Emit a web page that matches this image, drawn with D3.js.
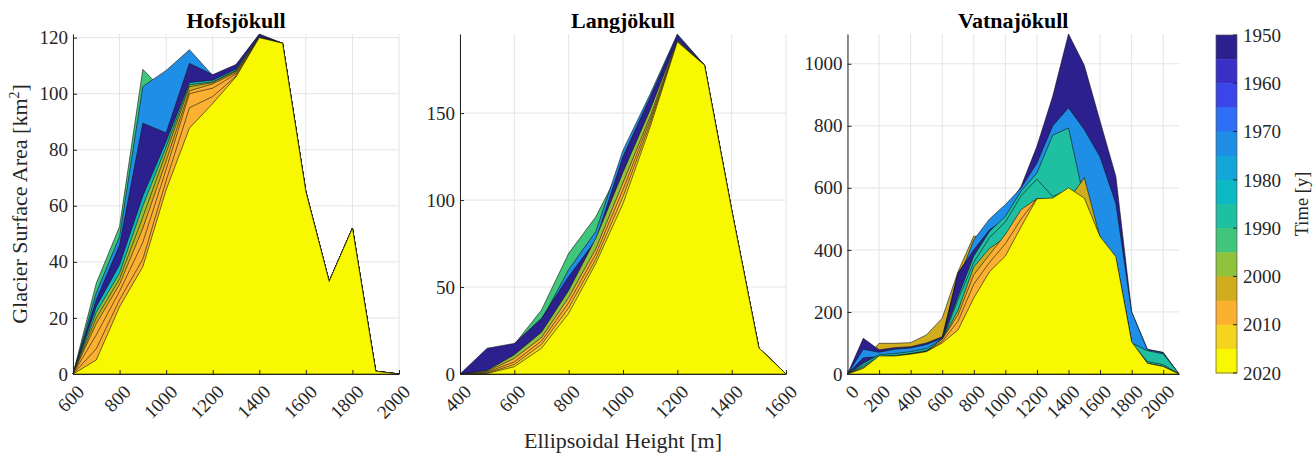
<!DOCTYPE html>
<html>
<head>
<meta charset="utf-8">
<script src="https://cdn.jsdelivr.net/npm/d3@7"></script>
<style>
  body { margin: 0; background: #fff; }
  text { font-family: "Liberation Serif", "Times New Roman", serif; fill: #262626; }
</style>
</head>
<body>
<svg id="chart" width="1315" height="457"></svg>
<script>
// ---------------------------------------------------------------- data
// Hofsjökull (area per 100 m height band, km²)
const hofsHeights = [600, 700, 800, 900, 1000, 1100, 1200, 1300, 1400, 1500, 1600, 1700, 1800, 1900, 2000];
const hofs1990 = [0, 32.4, 52.6, 108.7, 100, 102, 103.5, 108, 120.5, 118, 65, 33, 52, 1, 0];
const hofs1970 = [0, 29, 49, 102.6, 108.3, 115.7, 106.5, 110, 121, 118, 65, 33, 52, 1, 0];
const hofs1950 = [0, 26.5, 46, 89.5, 86, 110.8, 106.8, 110.4, 121.3, 118, 65, 33, 52, 1, 0];
const hofs1980 = [0, 24, 39, 63.5, 83, 104, 104.8, 108.8, 120.5, 118, 65, 33, 52, 1, 0];
const hofs1995 = [0, 22, 36, 60, 81, 103.2, 104.2, 108.3, 120.3, 118, 65, 33, 52, 1, 0];
const hofs2000 = [0, 20, 34, 56, 79, 102.5, 104, 108, 120.2, 118, 65, 33, 52, 1, 0];
const hofs2005 = [0, 18, 32, 52, 76, 101, 103.5, 107.5, 120, 118, 65, 33, 52, 1, 0];
const hofs2007 = [0, 14, 29.5, 47, 73, 100, 102, 107, 120, 118, 65, 33, 52, 1, 0];
const hofs2009 = [0, 9, 26.5, 41, 69, 95, 99, 106.3, 120, 118, 65, 33, 52, 1, 0];
const hofs2020 = [0, 5, 24, 38.3, 65.7, 87.7, 96.5, 106, 120, 118, 65, 33, 52, 1, 0];

// Langjökull
const langHeights = [400, 500, 600, 700, 800, 900, 1000, 1100, 1200, 1300, 1400, 1500, 1600];
const lang1990 = [0, 3, 17, 36.8, 69.4, 90.4, 121, 155, 192, 177.6, 94.3, 15, 0];
const lang1970 = [0, 5, 14, 31, 60, 82, 128.7, 161, 195.5, 177.6, 94.3, 15, 0];
const lang1950 = [0, 14.8, 17.6, 32, 56, 77, 125, 159, 194.8, 177.6, 94.3, 15, 0];
const lang1995 = [0, 2, 11, 24, 48, 78, 116, 152, 192, 177.6, 94.3, 15, 0];
const lang2005 = [0, 1.5, 9, 21, 44, 72, 110, 148, 191.5, 177.6, 94.3, 15, 0];
const lang2007 = [0, 1, 7, 19, 41, 69, 106, 146, 191, 177.6, 94.3, 15, 0];
const lang2012 = [0, 0.5, 5.5, 17, 38, 66, 102, 144, 191, 177.6, 94.3, 15, 0];
const lang2020 = [0, 0.3, 4.2, 14.8, 34.9, 63.6, 98, 142, 191, 177.6, 94.3, 15, 0];

// Vatnajökull
const vatHeights = [0, 100, 200, 300, 400, 500, 600, 700, 800, 900, 1000, 1100, 1200, 1300, 1400, 1500, 1600, 1700, 1800, 1900, 2000, 2100];
const vat2000 = [0, 40, 99, 99, 101, 126, 180, 330, 445, 430, 470, 560, 560, 555, 560, 560, 440, 370, 100, 34, 24, 0];
const vat1950 = [0, 115, 78, 85, 88, 100, 120, 325, 400, 465, 525, 605, 734, 895, 1096, 995, 815, 637, 200, 80, 70, 0];
const vat1970 = [0, 80, 70, 80, 84, 95, 115, 300, 433, 500, 546, 600, 680, 800, 858, 788, 700, 550, 200, 78, 68, 0];
const vat1953 = [0, 52, 56, 62, 66, 74, 106, 325, 400, 465, 500, 520, 560, 560, 560, 560, 440, 370, 100, 34, 24, 0];
const vat1985 = [0, 35, 62, 66, 72, 82, 112, 250, 380, 460, 508, 590, 648, 770, 793, 560, 430, 370, 100, 75, 65, 0];
const vat1987 = [0, 28, 56, 60, 66, 76, 106, 240, 360, 440, 490, 575, 628, 572, 595, 560, 430, 370, 100, 40, 30, 0];
const vat2002 = [0, 20, 50, 56, 64, 72, 110, 205, 345, 405, 440, 520, 565, 560, 560, 633, 440, 370, 100, 34, 24, 0];
const vat2005 = [0, 22, 52, 56, 64, 72, 112, 190, 320, 385, 450, 530, 565, 560, 560, 560, 440, 370, 100, 34, 24, 0];
const vat2007 = [0, 15, 45, 56, 64, 72, 105, 170, 290, 360, 420, 500, 565, 560, 560, 560, 440, 370, 100, 34, 24, 0];
const vat2020 = [0, 18, 58, 58, 64, 72, 100, 142, 245, 330, 380, 475, 565, 567, 600, 567, 443, 378, 104, 34.5, 24, 0];

// axes ticks
const hofsXTicks = [600, 800, 1000, 1200, 1400, 1600, 1800, 2000];
const hofsYTicks = [0, 20, 40, 60, 80, 100, 120];
const langXTicks = [400, 600, 800, 1000, 1200, 1400, 1600];
const langYTicks = [0, 50, 100, 150];
const vatXTicks = [0, 200, 400, 600, 800, 1000, 1200, 1400, 1600, 1800, 2000];
const vatYTicks = [0, 200, 400, 600, 800, 1000];
const colorbarTicks = [1950, 1960, 1970, 1980, 1990, 2000, 2010, 2020];

// colour bands (5 years each, 1950 -> 2020)
const bandColors = ['#2c1f8e', '#3a30c8', '#3b46ea', '#2f6ff5', '#1e8ee6', '#14a6d8', '#0cb8c2',
  '#1fbfa2', '#40c67a', '#8fc33c', '#d0ad1e', '#fcb032', '#f4d41f', '#f8f800'];
const yearColor = y => bandColors[Math.max(0, Math.min(bandColors.length - 1, Math.floor((y - 1950) / 5)))];

// ---------------------------------------------------------------- layout
const svg = d3.select('#chart');
const serif = '"Liberation Serif", "Times New Roman", serif';
const axTop = 34, axBottom = 374;
const axisColor = '#262626';
const gridColor = '#e4e4e4';

const panels = [
  { title: 'Hofsjökull', heights: hofsHeights, left: 73, right: 399, xDomain: [600, 2000],
    xTicks: hofsXTicks, yTicks: hofsYTicks,
    series: [[1990, hofs1990], [1970, hofs1970], [1950, hofs1950], [1980, hofs1980], [1995, hofs1995],
      [2000, hofs2000], [2005, hofs2005], [2007, hofs2007], [2009, hofs2009], [2020, hofs2020]] },
  { title: 'Langjökull', heights: langHeights, left: 460, right: 786, xDomain: [400, 1600],
    xTicks: langXTicks, yTicks: langYTicks,
    series: [[1990, lang1990], [1970, lang1970], [1950, lang1950], [1995, lang1995],
      [2005, lang2005], [2007, lang2007], [2012, lang2012], [2020, lang2020]] },
  { title: 'Vatnajökull', heights: vatHeights, left: 847.5, right: 1179, xDomain: [0, 2100],
    xTicks: vatXTicks, yTicks: vatYTicks,
    series: [[2000, vat2000], [1950, vat1950], [1970, vat1970], [1953, vat1953], [1985, vat1985],
      [1987, vat1987], [2002, vat2002], [2005, vat2005], [2007, vat2007], [2020, vat2020]] }
];

panels.forEach((p, pi) => {
  const xScale = d3.scaleLinear().domain(p.xDomain).range([p.left, p.right]);
  const yMax = d3.max(p.series, s => d3.max(s[1]));
  const yScale = d3.scaleLinear().domain([0, yMax]).range([axBottom, axTop]);
  const g = svg.append('g');

  // grid
  g.append('g').selectAll('line').data(p.xTicks).join('line')
    .attr('x1', d => xScale(d)).attr('x2', d => xScale(d))
    .attr('y1', axTop).attr('y2', axBottom)
    .attr('stroke', gridColor).attr('stroke-width', 1);
  g.append('g').selectAll('line').data(p.yTicks).join('line')
    .attr('x1', p.left).attr('x2', p.right)
    .attr('y1', d => yScale(d)).attr('y2', d => yScale(d))
    .attr('stroke', gridColor).attr('stroke-width', 1);

  // areas, one per survey year
  const area = d3.area()
    .x((d, i) => xScale(p.heights[i]))
    .y0(yScale(0))
    .y1(d => yScale(d));
  g.append('g').selectAll('path').data(p.series).join('path')
    .attr('d', d => area(d[1]))
    .attr('fill', d => yearColor(d[0]))
    .attr('stroke', '#111')
    .attr('stroke-width', 0.6)
    .attr('stroke-linejoin', 'round');

  // axes
  const xAxis = d3.axisBottom(xScale).tickValues(p.xTicks).tickSizeInner(-4).tickSizeOuter(0).tickFormat(d3.format('d'));
  const gx = g.append('g').attr('transform', `translate(0,${axBottom})`).call(xAxis)
    .attr('font-family', serif).attr('font-size', 19);
  gx.select('.domain').attr('stroke', axisColor);
  gx.selectAll('.tick line').attr('stroke', axisColor);
  gx.selectAll('.tick text')
    .attr('fill', axisColor)
    .attr('text-anchor', 'end')
    .attr('y', 0).attr('dy', 0)
    .attr('transform', 'translate(12,19) rotate(-45)');

  const yAxis = d3.axisLeft(yScale).tickValues(p.yTicks).tickSizeInner(-4).tickSizeOuter(0)
    .tickPadding(5).tickFormat(d3.format('d'));
  const gy = g.append('g').attr('transform', `translate(${p.left},0)`).call(yAxis)
    .attr('font-family', serif).attr('font-size', 19);
  gy.select('.domain').attr('stroke', axisColor);
  gy.selectAll('.tick line').attr('stroke', axisColor);
  gy.selectAll('.tick text').attr('fill', axisColor);

  // title
  g.append('text')
    .attr('x', (p.left + p.right) / 2).attr('y', 27.5)
    .attr('text-anchor', 'middle')
    .attr('font-size', '22px').attr('font-weight', 'bold')
    .style('fill', '#000')
    .text(p.title);

  if (pi === 0) {
    const yl = g.append('text')
      .attr('transform', `translate(27,${(axTop + axBottom) / 2}) rotate(-90)`)
      .attr('text-anchor', 'middle')
      .attr('font-size', '22px');
    yl.append('tspan').text('Glacier Surface Area [km');
    yl.append('tspan').attr('font-size', '14px').attr('dy', -8).text('2');
    yl.append('tspan').attr('dy', 8).text(']');
  }
  if (pi === 1) {
    g.append('text')
      .attr('x', (p.left + p.right) / 2).attr('y', 448)
      .attr('text-anchor', 'middle')
      .attr('font-size', '22px')
      .text('Ellipsoidal Height [m]');
  }
});

// ---------------------------------------------------------------- colorbar
const cbLeft = 1216, cbRight = 1237;
const cbScale = d3.scaleLinear().domain([1950, 2020]).range([35, 373]);
const cb = svg.append('g');
cb.selectAll('rect').data(bandColors).join('rect')
  .attr('x', cbLeft).attr('width', cbRight - cbLeft)
  .attr('y', (d, i) => cbScale(1950 + 5 * i))
  .attr('height', (d, i) => cbScale(1955 + 5 * i) - cbScale(1950 + 5 * i) + 0.5)
  .attr('fill', d => d);
cb.append('rect')
  .attr('x', cbLeft).attr('y', cbScale(1950))
  .attr('width', cbRight - cbLeft).attr('height', cbScale(2020) - cbScale(1950))
  .attr('fill', 'none').attr('stroke', '#555').attr('stroke-width', 0.7);
cb.selectAll('line').data(colorbarTicks).join('line')
  .attr('x1', cbRight - 4).attr('x2', cbRight)
  .attr('y1', d => cbScale(d)).attr('y2', d => cbScale(d))
  .attr('stroke', axisColor).attr('stroke-width', 1);
cb.selectAll('text.cbl').data(colorbarTicks).join('text')
  .attr('class', 'cbl')
  .attr('x', cbRight + 6).attr('y', d => cbScale(d)).attr('dy', '0.35em')
  .attr('font-size', '19px')
  .text(d => d);
cb.append('text')
  .attr('transform', `translate(1308,${(cbScale(1950) + cbScale(2020)) / 2}) rotate(-90)`)
  .attr('text-anchor', 'middle')
  .attr('font-size', '18.5px')
  .text('Time [y]');
</script>
</body>
</html>
